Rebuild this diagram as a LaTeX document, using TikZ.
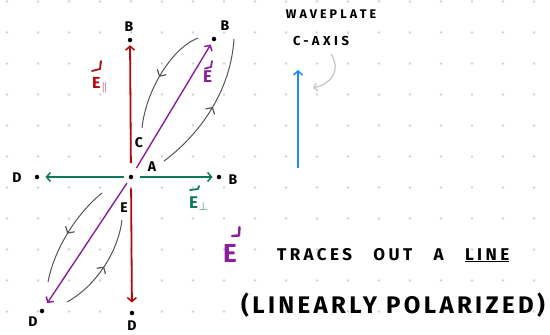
\documentclass[tikz,border=0pt]{standalone}
\usepackage{fontspec}
\setmainfont{Fira Sans}
\usetikzlibrary{arrows.meta,decorations.markings}
\definecolor{ered}{HTML}{B00A0A}
\definecolor{egreen}{HTML}{0E7A5A}
\definecolor{epurple}{HTML}{8A1E9E}
\definecolor{eblue}{HTML}{1E88FF}
\definecolor{arcgray}{HTML}{555555}
\definecolor{lightarc}{HTML}{C4C4C4}
\definecolor{dotgray}{HTML}{D2D2D2}
\tikzset{
  pt/.style={circle,fill=black,inner sep=0pt,minimum size=4.5pt},
  lbl/.style={font=\bfseries\fontsize{14}{14}\selectfont,inner sep=0pt},
  tip/.style={-{Straight Barb[length=4pt,width=9pt,line width=1.5pt]}},
  redarr/.style={ered,line width=1.8pt,tip},
  greenarr/.style={egreen,line width=1.4pt,tip},
  purplearr/.style={epurple,line width=1.4pt,tip},
  bluearr/.style={eblue,line width=1.8pt,tip},
  arc/.style={arcgray,line width=1pt,postaction={decorate},
    decoration={markings,mark=at position 0.5 with {\draw[arcgray,line width=1.2pt,line cap=round,line join=round] (-4.5pt,5pt) -- (0pt,0pt) -- (-4.5pt,-5pt);}}},
  vecl/.style={inner sep=0pt,anchor=base west},
  vmark/.style={line width=1.8pt,line cap=round,line join=round},
}
\begin{document}
\begin{tikzpicture}[x=1pt,y=-1pt]
\useasboundingbox (0,0) rectangle (550,335);
\fill[white] (0,0) rectangle (550,335);
\foreach \i in {0,...,17}{\foreach \j in {0,...,10}{\fill[dotgray] ({7+31*\i},{1.5+31*\j}) circle (1.3);}}
% points
\node[pt] (A) at (131,177) {};
\node[pt] (Bv) at (130,40) {};
\node[pt] (Bd) at (214,39) {};
\node[pt] (Bh) at (219,177) {};
\node[pt] (Dh) at (37,177) {};
\node[pt] (Dd) at (42,311) {};
\node[pt] (Dv) at (132,313) {};
% point labels
\node[lbl] (lBv) at (129,27) {B};
\node[lbl] (lBd) at (225,26) {B};
\node[lbl] (lBh) at (233,180) {B};
\node[lbl] (lDh) at (17,178) {D};
\node[lbl] (lDd) at (33,322) {D};
\node[lbl] (lDv) at (132,326) {D};
\node[lbl] (lA) at (152,167) {A};
\node[lbl] (lC) at (139,143) {C};
\node[lbl] (lE) at (124,208) {E};
% field arrows
\draw[redarr,shorten <=11.75pt,shorten >=2.75pt] (A) -- (Bv);
\draw[redarr,shorten <=9pt,shorten >=8pt] (A) -- (Dv);
\draw[greenarr,shorten <=5pt,shorten >=6pt] (A) -- (Dh);
\draw[greenarr,shorten <=7pt,shorten >=4pt] (A) -- (Bh);
\draw[purplearr,shorten <=8pt,shorten >=4pt] (A) -- (Bd);
\draw[purplearr,shorten <=5pt,shorten >=7pt] (A) -- (Dd);
% vector labels
\node[vecl,text=ered,font=\bfseries\fontsize{16}{16}\selectfont] (Epar) at (92,88) {E\kern1pt$_{\parallel}$};
\draw[vmark,ered] (92,71) -- (100,69) -- (101,61);
\node[vecl,text=epurple,font=\bfseries\fontsize{17}{17}\selectfont] (Evec) at (203,82) {E};
\draw[vmark,epurple] (205,68.5) -- (211,67) -- (212,61);
\node[vecl,text=egreen,font=\bfseries\fontsize{17}{17}\selectfont] (Eperp) at (189,208) {E\kern0.5pt$_{\perp}$};
\draw[vmark,egreen] (190,190) -- (198,189) -- (199,186);
% trace arcs
\coordinate (u1) at (198,38); \coordinate (u2) at (142,128);
\draw[arc] (u1) .. controls (172,48) and (146,90) .. (u2);
\coordinate (u3) at (164,161); \coordinate (u4) at (234,39);
\draw[arc] (u3) .. controls (190,142) and (230,100) .. (u4);
\coordinate (l1) at (102,193); \coordinate (l2) at (48,282);
\draw[arc] (l1) .. controls (76,214) and (54,250) .. (l2);
\coordinate (l3) at (67,302); \coordinate (l4) at (122,220);
\draw[arc] (l3) .. controls (96,286) and (118,252) .. (l4);
% waveplate axis
\coordinate (ax1) at (298,168); \coordinate (ax2) at (298,70);
\draw[bluearr] (ax1) -- (ax2);
\node[font=\bfseries\fontsize{12.5}{13}\selectfont\addfontfeature{LetterSpace=25},inner sep=0pt] (wp) at (331,14) {WAVEPLATE};
\node[font=\bfseries\fontsize{13}{13}\selectfont\addfontfeature{LetterSpace=27},inner sep=0pt] (ca) at (321,41) {C-AXIS};
\coordinate (g1) at (331,54); \coordinate (g2) at (313,88);
\draw[lightarc,line width=1.2pt,-{Straight Barb[length=3.5pt,width=8pt,line width=1.2pt]}] (g1) .. controls (342,72) and (330,84) .. (g2);
% caption
\node[vecl,text=epurple,font=\bfseries\fontsize{26}{26}\selectfont] (bigE) at (223,262) {E};
\draw[vmark,epurple,line width=2.4pt] (232,236) -- (239,235.5) -- (239.5,227);
\node[anchor=west,font=\bfseries\fontsize{17}{18}\selectfont\addfontfeature{LetterSpace=20},inner sep=0pt] (tr) at (277,255) {TRACES\hspace{14pt} OUT\hspace{14pt} A\hspace{14pt} \underline{LINE}};
\node[anchor=west,font=\bfseries\fontsize{24}{25}\selectfont\addfontfeature{LetterSpace=14},inner sep=0pt] (lp) at (241,305) {(LINEARLY POLARIZED)};
\end{tikzpicture}
\end{document}
